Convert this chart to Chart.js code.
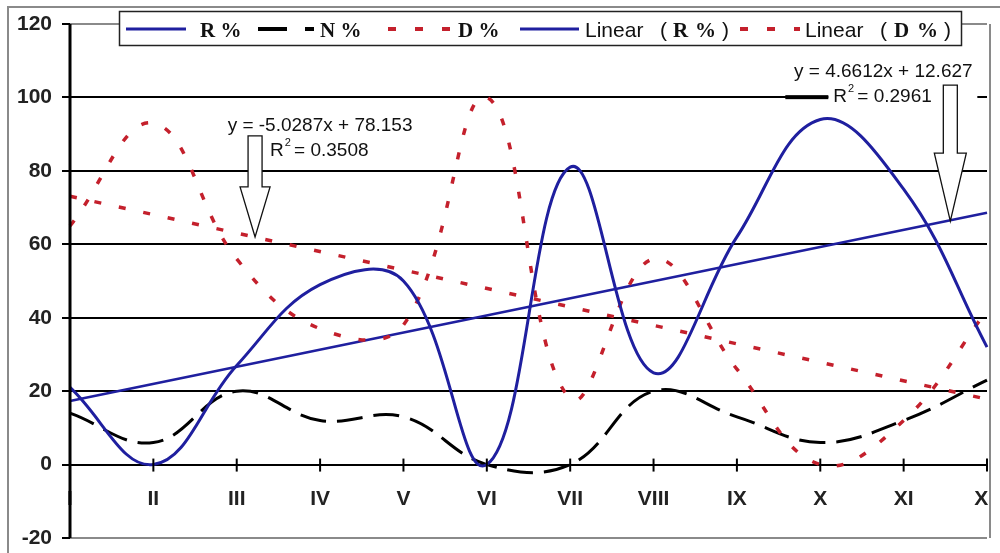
<!DOCTYPE html>
<html>
<head>
<meta charset="utf-8">
<script src="https://cdn.jsdelivr.net/npm/chart.js@4/dist/chart.umd.min.js"></script>
<style>
  html, body { margin: 0; padding: 0; background: #fff; }
  #wrap { width: 1000px; height: 553px; position: relative; }
</style>
</head>
<body>
<div id="wrap"><canvas id="chart"></canvas></div>
<script>
// values
const months = ['I', 'II', 'III', 'IV', 'V', 'VI', 'VII', 'VIII', 'IX', 'X', 'XI', 'XII'];
const rPct = [21, 0, 27, 49, 50, 0, 81, 25, 62, 94, 75, 32];
const nPct = [14, 6, 20, 12, 13, 0, 0, 20, 13, 6, 12, 23];
const dPct = [65, 93, 56, 37, 38, 100, 18, 56, 26, 0, 12, 42];
// trend lines: only the end points, straight line between them
const trendR = [17.3, null, null, null, null, null, null, null, null, null, null, 68.6];
const trendD = [73.1, null, null, null, null, null, null, null, null, null, null, 17.8];
const yTicks = [-20, 0, 20, 40, 60, 80, 100, 120];
const eqD = ['y = -5.0287x + 78.153', ' = 0.3508'];
const eqR = ['y = 4.6612x + 12.627', ' = 0.2961'];
// where the arrows point (category index, value)
const tipD = { x: 2.22, y: 62 };
const tipR = { x: 10.56, y: 66.3 };

const SANS = '"Liberation Sans", Arial, sans-serif';
const SERIF = '"Liberation Serif", "Times New Roman", serif';
const BLUE = '#1f1f9f';
const RED = '#c4202c';
const DOTS = [7, 18];
const DASH = [26, 11];

function drawArrow(ctx, tx, ty, headH, shaftH, headW, shaftW) {
    ctx.beginPath();
    ctx.moveTo(tx, ty);
    ctx.lineTo(tx - headW, ty - headH);
    ctx.lineTo(tx - shaftW, ty - headH);
    ctx.lineTo(tx - shaftW, ty - headH - shaftH);
    ctx.lineTo(tx + shaftW, ty - headH - shaftH);
    ctx.lineTo(tx + shaftW, ty - headH);
    ctx.lineTo(tx + headW, ty - headH);
    ctx.closePath();
    ctx.fillStyle = '#fff';
    ctx.fill();
    ctx.strokeStyle = '#111';
    ctx.lineWidth = 1.3;
    ctx.setLineDash([]);
    ctx.stroke();
}

// "R² = ..." with a small raised 2
function drawR2(ctx, x, y, rest) {
    ctx.textAlign = 'left';
    ctx.textBaseline = 'alphabetic';
    ctx.font = '19px ' + SANS;
    ctx.fillText('R', x, y);
    let w = ctx.measureText('R').width;
    ctx.font = '11px ' + SANS;
    ctx.fillText('2', x + w + 1, y - 10);
    ctx.font = '19px ' + SANS;
    ctx.fillText(rest, x + w + 5, y);
}

function sample(ctx, x1, x2, y, color, width, dash) {
    ctx.beginPath();
    ctx.setLineDash(dash);
    ctx.strokeStyle = color;
    ctx.lineWidth = width;
    ctx.moveTo(x1, y);
    ctx.lineTo(x2, y);
    ctx.stroke();
    ctx.setLineDash([]);
}

// text pieces: [text, font, offset from x]
function pieces(ctx, x, y, parts) {
    ctx.fillStyle = '#111';
    ctx.textAlign = 'left';
    ctx.textBaseline = 'alphabetic';
    parts.forEach(p => {
        ctx.font = p[1];
        ctx.fillText(p[0], x + p[2], y);
    });
}

const overlay = {
    id: 'overlay',
    beforeDraw(chart) {
        const ctx = chart.ctx;
        ctx.save();
        ctx.fillStyle = '#fff';
        ctx.fillRect(0, 0, chart.width, chart.height);
        // outer chart border (only top and left are in frame)
        ctx.strokeStyle = '#8a8a8a';
        ctx.lineWidth = 2;
        ctx.beginPath();
        ctx.moveTo(8, chart.height);
        ctx.lineTo(8, 7);
        ctx.lineTo(chart.width, 7);
        ctx.stroke();
        ctx.restore();
    },
    afterDraw(chart) {
        const ctx = chart.ctx;
        const xs = chart.scales.x;
        const ys = chart.scales.y;
        const area = chart.chartArea;
        const y0 = ys.getPixelForValue(0);
        ctx.save();

        // crossing tick marks on the category axis
        ctx.strokeStyle = '#000';
        ctx.lineWidth = 2;
        months.forEach((m, i) => {
            const px = xs.getPixelForValue(i);
            ctx.beginPath();
            ctx.moveTo(px, y0 - 6);
            ctx.lineTo(px, y0 + 7);
            ctx.stroke();
        });

        // plot border on the right, hides what spills past it
        ctx.fillStyle = '#fff';
        ctx.fillRect(area.right + 4, area.top - 1, chart.width - area.right, area.bottom - area.top + 20);
        ctx.strokeStyle = '#8a8a8a';
        ctx.lineWidth = 2;
        ctx.beginPath();
        ctx.moveTo(area.right + 3, area.top);
        ctx.lineTo(area.right + 3, area.bottom);
        ctx.stroke();

        // value axis line
        ctx.strokeStyle = '#000';
        ctx.lineWidth = 3;
        ctx.beginPath();
        ctx.moveTo(area.left, area.top);
        ctx.lineTo(area.left, area.bottom);
        ctx.stroke();

        // trend line labels and arrows
        ctx.fillStyle = '#111';
        let tx = xs.getPixelForValue(tipD.x), ty = ys.getPixelForValue(tipD.y);
        ctx.font = '19px ' + SANS;
        ctx.textAlign = 'center';
        ctx.fillText(eqD[0], tx + 65, ty - 106);
        drawR2(ctx, tx + 15, ty - 81, eqD[1]);
        drawArrow(ctx, tx, ty, 50, 51, 15, 7);

        tx = xs.getPixelForValue(tipR.x);
        ty = ys.getPixelForValue(tipR.y);
        ctx.fillStyle = '#fff';
        ctx.fillRect(tx - 122, ty - 134, 149, 18);
        ctx.fillStyle = '#000';
        ctx.fillRect(tx - 165, ty - 126, 43, 4);
        ctx.fillStyle = '#111';
        ctx.font = '19px ' + SANS;
        ctx.textAlign = 'center';
        ctx.fillText(eqR[0], tx - 67, ty - 144);
        drawR2(ctx, tx - 117, ty - 119, eqR[1]);
        drawArrow(ctx, tx, ty, 68, 68, 16, 7);

        // legend
        ctx.fillStyle = '#fff';
        ctx.fillRect(119, 11, 842, 34);
        ctx.strokeStyle = '#222';
        ctx.lineWidth = 1.5;
        ctx.strokeRect(119.5, 11.5, 842, 34);
        const ly = 29, tb = 37;
        const serifB = 'bold 21px ' + SERIF;
        const sans = '21px ' + SANS;
        sample(ctx, 126, 186, ly, BLUE, 3, []);
        pieces(ctx, 200, tb, [['R %', serifB, 0]]);
        sample(ctx, 258, 314, ly, '#000', 4, [29, 18]);
        pieces(ctx, 320, tb, [['N %', serifB, 0]]);
        sample(ctx, 388, 450, ly, RED, 4, [8, 19]);
        pieces(ctx, 458, tb, [['D %', serifB, 0]]);
        sample(ctx, 520, 579, ly, BLUE, 3, []);
        pieces(ctx, 585, tb, [['Linear', sans, 0], ['(', sans, 75], ['R', serifB, 88], ['%', serifB, 110], [')', sans, 137]]);
        sample(ctx, 740, 800, ly, RED, 4, [8, 19]);
        pieces(ctx, 805, tb, [['Linear', sans, 0], ['(', sans, 75], ['D', serifB, 89], ['%', serifB, 112], [')', sans, 139]]);

        ctx.restore();
    }
};

new Chart(document.getElementById('chart'), {
    type: 'line',
    data: {
        labels: months,
        datasets: [
            { label: 'R %', data: rPct, borderColor: BLUE, borderWidth: 3, tension: 0.4, order: 1 },
            { label: 'N %', data: nPct, borderColor: '#000', borderWidth: 3, borderDash: DASH, tension: 0.4, order: 3 },
            { label: 'D %', data: dPct, borderColor: RED, borderWidth: 3.5, borderDash: DOTS, tension: 0.4, order: 2 },
            { label: 'Linear ( R % )', data: trendR, borderColor: BLUE, borderWidth: 2.5, spanGaps: true, tension: 0, order: 4 },
            { label: 'Linear ( D % )', data: trendD, borderColor: RED, borderWidth: 3.5, borderDash: DOTS, spanGaps: true, tension: 0, order: 5 }
        ]
    },
    options: {
        responsive: true,
        maintainAspectRatio: false,
        animation: false,
        events: [],
        elements: { point: { radius: 0 }, line: { borderCapStyle: 'butt' } },
        layout: { padding: { left: 0, right: 13, top: 24, bottom: 15 } },
        plugins: { legend: { display: false }, tooltip: { enabled: false } },
        scales: {
            x: {
                position: { y: 0 },
                offset: false,
                afterFit: s => { s.paddingLeft = 0; s.paddingRight = 0; },
                grid: { display: false, drawTicks: false },
                border: { display: false },
                ticks: {
                    padding: 22,
                    autoSkip: false,
                    maxRotation: 0,
                    color: '#222',
                    font: { family: SANS, size: 21, weight: 'bold' }
                }
            },
            y: {
                min: -20,
                max: 120,
                afterBuildTicks: s => { s.ticks = yTicks.map(v => ({ value: v })); },
                afterFit: s => { s.width = 70; s.paddingTop = 0; s.paddingBottom = 0; },
                grid: {
                    color: c => (c.tick && (c.tick.value === 120 || c.tick.value === -20)) ? '#8a8a8a' : '#000',
                    lineWidth: 2,
                    tickColor: '#000',
                    tickLength: 8
                },
                border: { display: false },
                ticks: {
                    padding: 10,
                    color: '#222',
                    font: { family: SANS, size: 21, weight: 'bold' }
                }
            }
        }
    },
    plugins: [overlay]
});
</script>
</body>
</html>
